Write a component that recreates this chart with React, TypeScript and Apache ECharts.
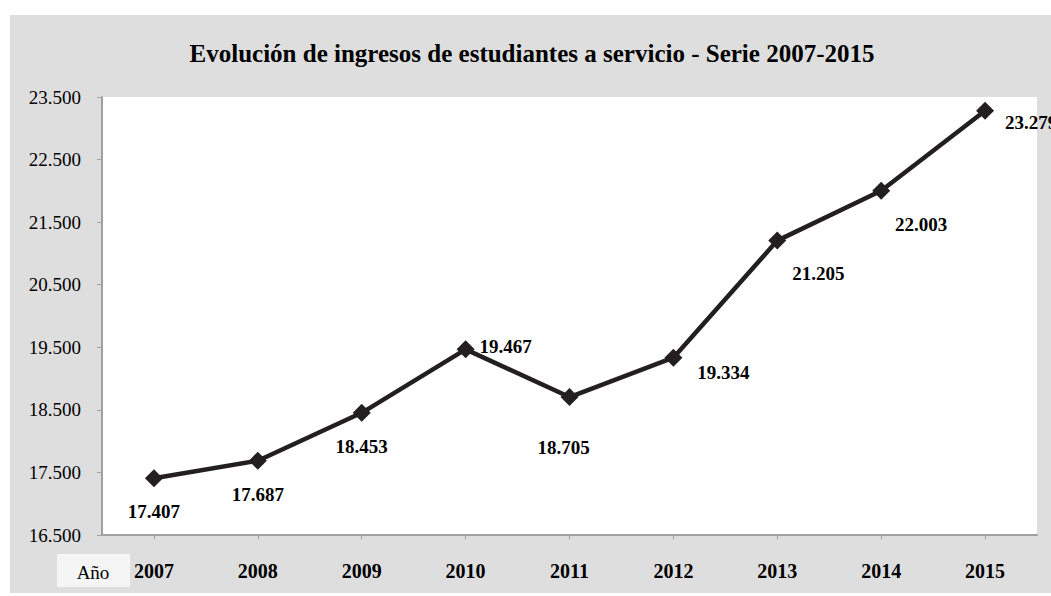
import React, { useEffect, useRef } from "react";
import * as echarts from "echarts";

const titleText = "Evolución de ingresos de estudiantes a servicio - Serie 2007-2015";
const years = ["2007", "2008", "2009", "2010", "2011", "2012", "2013", "2014", "2015"];
const ingresos = [17407, 17687, 18453, 19467, 18705, 19334, 21205, 22003, 23279];
const yMin = 16500;
const yMax = 23500;
const yStep = 1000;
const axisName = "Año";
// label offsets (px) relative to each point
const labelOffsets: [number, number][] = [
  [0, 33], [0, 34], [0, 34], [40, -3], [-6, 50], [50, 15], [41, 33], [40, 34], [46, 12],
];

const SERIF = "'Liberation Serif', 'Times New Roman', serif";
const SYMBOL = 18;

function fmt(v: number): string {
  const s = Math.round(v).toString();
  return s.replace(/\B(?=(\d{3})+(?!\d))/g, ".");
}

export default function App() {
  const ref = useRef<HTMLDivElement>(null);
  useEffect(() => {
    if (!ref.current) return;
    const chart = echarts.init(ref.current, undefined, { renderer: "svg" });
    chart.setOption({
      animation: false,
      backgroundColor: "#ffffff",
      textStyle: { fontFamily: SERIF },
      graphic: [
        {
          type: "rect",
          z: -10,
          silent: true,
          shape: { x: 10, y: 15, width: 1041, height: 578 },
          style: { fill: "#dedede" },
        },
        {
          type: "text",
          x: 532,
          y: 53,
          style: {
            text: titleText,
            fontFamily: SERIF,
            fontWeight: "bold",
            fontSize: 25,
            fill: "#000",
            align: "center",
            verticalAlign: "middle",
          },
        },
        {
          type: "rect",
          silent: true,
          shape: { x: 57, y: 554, width: 73, height: 33 },
          style: { fill: "#f5f5f5" },
        },
        {
          type: "text",
          x: 93,
          y: 572,
          style: {
            text: axisName,
            fontFamily: SERIF,
            fontSize: 19,
            fill: "#000",
            align: "center",
            verticalAlign: "middle",
          },
        },
      ],
      grid: {
        left: 102,
        right: 14,
        top: 97,
        bottom: 61,
        show: true,
        backgroundColor: "#ffffff",
        borderWidth: 0,
        containLabel: false,
      },
      xAxis: {
        type: "category",
        data: years,
        boundaryGap: true,
        axisLine: { show: true, lineStyle: { color: "#a0a0a0", width: 2 } },
        axisTick: { show: true, alignWithLabel: true, length: 4, lineStyle: { color: "#a0a0a0", width: 1 } },
        axisLabel: {
          margin: 26,
          fontFamily: SERIF,
          fontWeight: "bold",
          fontSize: 20,
          color: "#000",
        },
        splitLine: { show: false },
      },
      yAxis: {
        type: "value",
        min: yMin,
        max: yMax,
        interval: yStep,
        axisLine: { show: true, lineStyle: { color: "#a0a0a0", width: 2 } },
        axisTick: { show: true, length: 5, lineStyle: { color: "#a0a0a0", width: 1 } },
        axisLabel: {
          margin: 21,
          fontFamily: SERIF,
          fontSize: 19,
          color: "#000",
          formatter: (v: number) => fmt(v),
        },
        splitLine: { show: false },
      },
      series: [
        {
          type: "line",
          data: ingresos.map((v, i) => ({
            value: v,
            label: {
              position: [SYMBOL / 2 + labelOffsets[i][0], SYMBOL / 2 + labelOffsets[i][1]],
            },
          })),
          lineStyle: { color: "#231f20", width: 4.5 },
          itemStyle: { color: "#231f20" },
          symbol: "diamond",
          symbolSize: SYMBOL,
          showAllSymbol: true,
          label: {
            show: true,
            align: "center",
            verticalAlign: "middle",
            fontFamily: SERIF,
            fontWeight: "bold",
            fontSize: 19,
            color: "#000",
            formatter: (p: any) => fmt(p.value),
          },
          labelLayout: { hideOverlap: false },
        },
      ],
    });
    return () => chart.dispose();
  }, []);
  return (
    <div
      ref={ref}
      style={{ position: "absolute", left: 0, top: 0, width: 1051, height: 596 }}
    />
  );
}
